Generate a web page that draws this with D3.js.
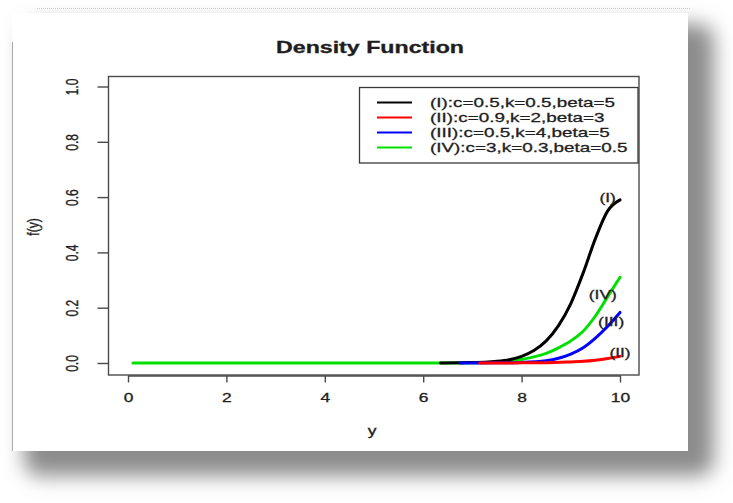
<!DOCTYPE html>
<html><head><meta charset="utf-8">
<script src="https://cdn.jsdelivr.net/npm/d3@7"></script>
<style>html,body{margin:0;padding:0;background:#fff;}svg{display:block;}text{font-family:"Liberation Sans",Arial,sans-serif;fill:#1e1e1e;stroke:#1e1e1e;stroke-width:0.3px;}</style>
</head><body>
<svg id="c" width="733" height="503"></svg>
<script>
// ---- data ----
const xTicks = [0, 2, 4, 6, 8, 10];
const yTicks = [0, 0.2, 0.4, 0.6, 0.8, 1.0];
const seriesNames = ["(I):c=0.5,k=0.5,beta=5", "(II):c=0.9,k=2,beta=3", "(III):c=0.5,k=4,beta=5", "(IV):c=3,k=0.3,beta=0.5"];
const curveTags = ["(I)", "(II)", "(III)", "(IV)"];
const seriesColors = ["#000000", "#ff0000", "#0000ff", "#00e000"];

const xI   = [6.35, 6.75, 7, 7.25, 7.5, 7.75, 8, 8.25, 8.5, 8.75, 9, 9.25, 9.5, 9.75, 10];
const fI   = [0, 0.001, 0.002, 0.003, 0.006, 0.012, 0.024, 0.045, 0.08, 0.135, 0.215, 0.325, 0.45, 0.55, 0.59];
const xII  = [7.15, 7.5, 8, 8.5, 9, 9.25, 9.5, 9.75, 10];
const fII  = [0, 0, 0.0005, 0.001, 0.004, 0.006, 0.01, 0.016, 0.024];
const xIII = [6.75, 7, 7.5, 8, 8.5, 8.75, 9, 9.25, 9.5, 9.75, 10];
const fIII = [0, 0, 0.0005, 0.002, 0.008, 0.017, 0.032, 0.055, 0.09, 0.133, 0.183];
const xIV  = [0.1, 2, 4, 6, 6.5, 7, 7.5, 8, 8.25, 8.5, 8.75, 9, 9.25, 9.5, 9.75, 10];
const fIV  = [0, 0, 0, 0, 0, 0.001, 0.004, 0.013, 0.022, 0.035, 0.055, 0.08, 0.115, 0.17, 0.24, 0.31];
// label anchor (x in data units, f in data units)
const tagX = [9.75, 10.0, 9.82, 9.65];
const tagF = [0.597, 0.035, 0.147, 0.245];

const series = [
  {x: xI, f: fI}, {x: xII, f: fII}, {x: xIII, f: fIII}, {x: xIV, f: fIV}
];

// ---- layout ----
const svg = d3.select("#c");
const SX = 1.45; // horizontal stretch of the original raster

// card shadow
const defs = svg.append("defs");
const flt = defs.append("filter").attr("id","sh").attr("x","-20%").attr("y","-20%").attr("width","140%").attr("height","140%");
flt.append("feGaussianBlur").attr("stdDeviation", 10);
svg.append("rect").attr("x", 24).attr("y", 24).attr("width", 690).attr("height", 452)
  .attr("rx", 16).attr("fill", "#8c8c8c").attr("filter", "url(#sh)");
svg.append("rect").attr("x", 12).attr("y", 13).attr("width", 676).attr("height", 438).attr("fill", "#fff");
svg.append("line").attr("x1", 12.5).attr("x2", 12.5).attr("y1", 42).attr("y2", 451).attr("stroke", "#aaa").attr("stroke-width", 1);
svg.append("line").attr("x1", 37).attr("x2", 690).attr("y1", 8.5).attr("y2", 8.5).attr("stroke", "#ccc").attr("stroke-width", 1).attr("stroke-dasharray", "1,1");

const x = d3.scaleLinear().domain([0, 10]).range([128, 620]);
const y = d3.scaleLinear().domain([0, 1]).range([363, 86.5]);

// plot box
svg.append("rect").attr("x", 108.5).attr("y", 76.5).attr("width", 530.5).attr("height", 298.5)
  .attr("fill", "none").attr("stroke", "#4a4a4a").attr("stroke-width", 1.4);

// x axis
const gx = svg.append("g").attr("transform", "translate(0,375.5)")
  .call(d3.axisBottom(x).tickValues(xTicks).tickSize(7).tickSizeOuter(0).tickFormat(d3.format("d")));
gx.select(".domain").attr("stroke", "#4a4a4a").attr("stroke-width", 1.4);
gx.selectAll(".tick line").attr("stroke", "#4a4a4a").attr("stroke-width", 1.4);
gx.selectAll(".tick text").attr("y", 22).attr("dy", "0.35em").attr("font-size", 12)
  .attr("font-family", "Liberation Sans, Arial, sans-serif").attr("fill", "#1e1e1e")
  .attr("transform", `scale(${SX},1)`);

// y axis
const gy = svg.append("g").attr("transform", "translate(108.5,0)")
  .call(d3.axisLeft(y).tickValues(yTicks).tickSize(11).tickSizeOuter(0).tickFormat(d3.format(".1f")));
gy.select(".domain").remove();
gy.selectAll(".tick line").attr("stroke", "#4a4a4a").attr("stroke-width", 1.4);
gy.selectAll(".tick text").attr("x", 0).attr("y", 0).attr("dy", 0).attr("text-anchor", "middle")
  .attr("font-size", 12).attr("font-family", "Liberation Sans, Arial, sans-serif").attr("fill", "#1e1e1e")
  .attr("transform", "rotate(-90) translate(0,-31) scale(1,1.3)");

// title
svg.append("text").attr("transform", `translate(370,53) scale(${SX},1)`).attr("text-anchor", "middle")
  .attr("font-size", 16).attr("font-weight", "bold").text("Density Function");
// axis titles
svg.append("text").attr("transform", `translate(372,435) scale(${SX},1)`).attr("text-anchor", "middle")
  .attr("font-size", 12).text("y");
svg.append("text").attr("transform", "translate(39,227) rotate(-90) scale(1,1.3)").attr("text-anchor", "middle")
  .attr("font-size", 12).text("f(y)");

// curves (drawing order: IV, I, III, II)
const line = d3.line().x(d => x(d[0])).y(d => y(d[1])).curve(d3.curveMonotoneX);
[3, 0, 2, 1].forEach(i => {
  const s = series[i];
  svg.append("path").datum(s.x.map((v, j) => [v, s.f[j]]))
    .attr("d", line).attr("fill", "none").attr("stroke", seriesColors[i])
    .attr("stroke-width", 3).attr("stroke-linejoin", "round").attr("stroke-linecap", "round");
});

// curve tags
curveTags.forEach((t, i) => {
  svg.append("text").attr("transform", `translate(${x(tagX[i])},${y(tagF[i]) + 4}) scale(${SX},1)`)
    .attr("text-anchor", "middle").attr("font-size", 12).text(t);
});

// legend
svg.append("rect").attr("x", 359.5).attr("y", 87.5).attr("width", 278.5).attr("height", 75.5)
  .attr("fill", "#fff").attr("stroke", "#3a3a3a").attr("stroke-width", 1.3);
seriesNames.forEach((n, i) => {
  const yy = 102.5 + i * 15;
  svg.append("line").attr("x1", 377).attr("x2", 412).attr("y1", yy).attr("y2", yy)
    .attr("stroke", seriesColors[i]).attr("stroke-width", 2);
  svg.append("text").attr("transform", `translate(430,${yy + 4.2}) scale(${SX},1)`)
    .attr("font-size", 13).text(n);
});
</script>
</body></html>
